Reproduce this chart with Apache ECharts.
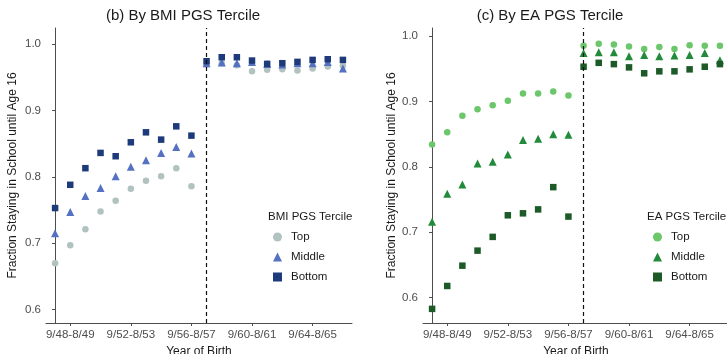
<!DOCTYPE html>
<html>
<head>
<meta charset="utf-8">
<script src="https://cdn.jsdelivr.net/npm/echarts@6/dist/echarts.min.js"></script>
<style>
  html, body { margin: 0; padding: 0; background: #fff; }
  #chart { width: 727px; height: 354px; }
</style>
</head>
<body>
<div id="chart"></div>
<script>
// birth cohorts (school years), index 10 = first cohort affected by the reform
var cohorts = [
  "9/47-8/48", "9/48-8/49", "9/49-8/50", "9/50-8/51", "9/51-8/52",
  "9/52-8/53", "9/53-8/54", "9/54-8/55", "9/55-8/56", "9/56-8/57",
  "9/57-8/58", "9/58-8/59", "9/59-8/60", "9/60-8/61", "9/61-8/62",
  "9/62-8/63", "9/63-8/64", "9/64-8/65", "9/65-8/66", "9/66-8/67"
];
var labelIdx = [1, 5, 9, 13, 17];
var yTicks = [0.6, 0.7, 0.8, 0.9, 1.0];
var reformIdx = 10;
var terciles = ["Top", "Middle", "Bottom"];

// (b) BMI PGS tercile
var bmiTop = [0.670, 0.697, 0.721, 0.748, 0.764, 0.782, 0.794, 0.801, 0.813, 0.786,
              0.969, 0.971, 0.968, 0.959, 0.961, 0.962, 0.960, 0.963, 0.966, 0.967];
var bmiMiddle = [0.715, 0.747, 0.771, 0.783, 0.801, 0.815, 0.825, 0.836, 0.845, 0.835,
                 0.971, 0.972, 0.971, 0.973, 0.970, 0.969, 0.971, 0.971, 0.973, 0.963];
var bmiBottom = [0.753, 0.788, 0.813, 0.836, 0.831, 0.852, 0.867, 0.856, 0.876, 0.862,
                 0.974, 0.980, 0.980, 0.975, 0.970, 0.971, 0.973, 0.976, 0.977, 0.976];

// (c) EA PGS tercile
var eaTop = [0.834, 0.853, 0.878, 0.888, 0.894, 0.901, 0.912, 0.912, 0.915, 0.909,
             0.985, 0.988, 0.987, 0.984, 0.980, 0.983, 0.980, 0.986, 0.985, 0.985];
var eaMiddle = [0.716, 0.759, 0.773, 0.805, 0.808, 0.819, 0.841, 0.843, 0.850, 0.849,
                0.974, 0.975, 0.975, 0.969, 0.971, 0.969, 0.970, 0.971, 0.974, 0.963];
var eaBottom = [0.583, 0.618, 0.649, 0.672, 0.693, 0.726, 0.729, 0.735, 0.769, 0.724,
                0.953, 0.959, 0.957, 0.952, 0.943, 0.946, 0.946, 0.949, 0.953, 0.957];

var chart = echarts.init(document.getElementById("chart"));

var font = "Liberation Sans, Arial, sans-serif";
var symbols = ["circle", "triangle", "rect"];
var sizes = [6.5, 8, 6.5];
var bmiColors = ["#b2c2c0", "#5571c1", "#1d3a7b"];
var eaColors = ["#6cc66a", "#228b3b", "#1c5a27"];

function pts(arr) {
  return arr.map(function (v, i) { return [i, v]; });
}

function xAxisFor(gi) {
  return {
    type: "value", gridIndex: gi, min: -0.6, max: 19.6,
    name: "Year of Birth", nameLocation: "middle", nameGap: 17,
    nameTextStyle: { color: "#1a1a1a", fontSize: 12, fontFamily: font },
    axisLine: { show: true, lineStyle: { color: "#4d4d4d", width: 1 } },
    axisTick: { show: true, length: 3, customValues: labelIdx, lineStyle: { color: "#4d4d4d" } },
    axisLabel: {
      customValues: labelIdx, color: "#4d4d4d", fontSize: 11.5, fontFamily: font, margin: 6,
      formatter: function (v) { return cohorts[Math.round(v)]; }
    },
    splitLine: { show: false }
  };
}

function yAxisFor(gi, min, max, gap) {
  return {
    type: "value", gridIndex: gi, min: min, max: max,
    name: "Fraction Staying in School until Age 16", nameLocation: "middle", nameGap: gap,
    nameTextStyle: { color: "#1a1a1a", fontSize: 12, fontFamily: font },
    axisLine: { show: true, lineStyle: { color: "#4d4d4d", width: 1 } },
    axisTick: { show: true, length: 3, customValues: yTicks, lineStyle: { color: "#4d4d4d" } },
    axisLabel: {
      customValues: yTicks, color: "#4d4d4d", fontSize: 11.5, fontFamily: font, margin: 5,
      formatter: function (v) { return v.toFixed(1); }
    },
    splitLine: { show: false }
  };
}

function panelSeries(prefix, data, colors, gi) {
  return data.map(function (arr, k) {
    var s = {
      name: prefix + "|" + terciles[k],
      type: "scatter",
      xAxisIndex: gi, yAxisIndex: gi,
      symbol: symbols[k], symbolSize: sizes[k],
      itemStyle: { color: colors[k], opacity: 1 },
      data: pts(arr)
    };
    if (k === 0) {
      s.markLine = {
        silent: true, symbol: "none", label: { show: false },
        lineStyle: { color: "#111", type: [4, 3], width: 1.2 },
        data: [{ xAxis: reformIdx }]
      };
    }
    return s;
  });
}

function legendFor(prefix, left) {
  return {
    orient: "vertical", left: left, top: 231, padding: 0, itemGap: 8,
    itemWidth: 9, itemHeight: 9, selectedMode: false,
    textStyle: { color: "#1a1a1a", fontSize: 11.5, fontFamily: font, padding: [0, 0, 0, 4] },
    formatter: function (n) { return n.split("|")[1]; },
    data: terciles.map(function (t, k) {
      return { name: prefix + "|" + t, icon: symbols[k] };
    })
  };
}

var series = panelSeries("BMI", [bmiTop, bmiMiddle, bmiBottom], bmiColors, 0)
  .concat(panelSeries("EA", [eaTop, eaMiddle, eaBottom], eaColors, 1));

chart.setOption({
  backgroundColor: "#fff",
  animation: false,
  title: [
    { text: "(b) By BMI PGS Tercile", left: 183, top: 8, padding: 0, textAlign: "center",
      textStyle: { fontSize: 15, fontWeight: "normal", color: "#1a1a1a", fontFamily: font } },
    { text: "(c) By EA PGS Tercile", left: 550, top: 8, padding: 0, textAlign: "center",
      textStyle: { fontSize: 15, fontWeight: "normal", color: "#1a1a1a", fontFamily: font } },
    { text: "BMI PGS Tercile", left: 268, top: 211, padding: 0,
      textStyle: { fontSize: 11.5, fontWeight: "normal", color: "#1a1a1a", fontFamily: font } },
    { text: "EA PGS Tercile", left: 647, top: 211, padding: 0,
      textStyle: { fontSize: 11.5, fontWeight: "normal", color: "#1a1a1a", fontFamily: font } }
  ],
  legend: [legendFor("BMI", 273), legendFor("EA", 653)],
  grid: [
    { left: 46, top: 28, width: 306, height: 295, outerBoundsMode: "none" },
    { left: 423, top: 28, width: 306, height: 295, outerBoundsMode: "none" }
  ],
  xAxis: [xAxisFor(0), xAxisFor(1)],
  yAxis: [yAxisFor(0, 0.58, 1.024, 27), yAxisFor(1, 0.5614, 1.0122, 25)],
  series: series
});
</script>
</body>
</html>
